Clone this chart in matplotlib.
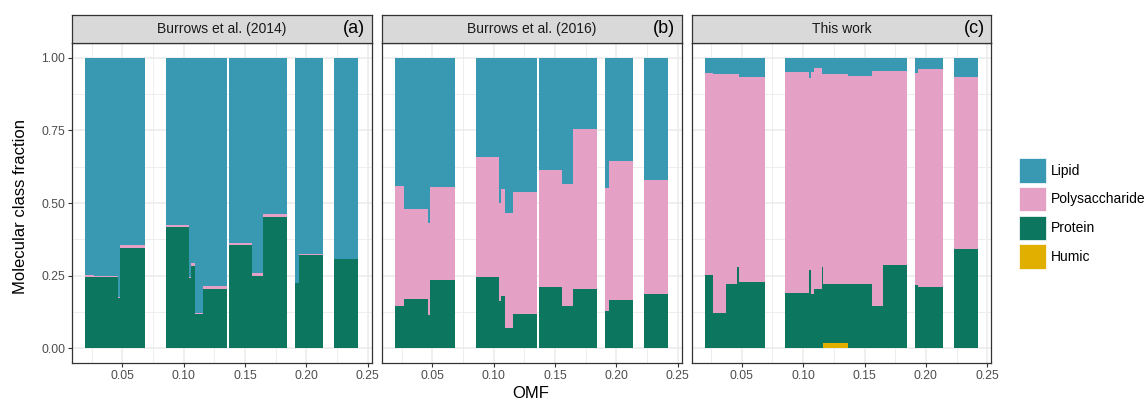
import matplotlib
matplotlib.use("Agg")
import matplotlib.pyplot as plt
from matplotlib.patches import Patch
from matplotlib.ticker import MultipleLocator

plt.rcParams['font.family'] = ['Liberation Sans', 'DejaVu Sans']

# bar edges (OMF) shared by panels (a) and (b)
ab_left = [0.0196, 0.0269, 0.0462, 0.0481, 0.0853, 0.1046, 0.1062, 0.1089, 0.1155,
           0.1370, 0.1557, 0.1647, 0.1908, 0.1938, 0.2226]
ab_right = [0.0269, 0.0462, 0.0481, 0.0685, 0.1046, 0.1062, 0.1089, 0.1155, 0.1357,
            0.1557, 0.1647, 0.1845, 0.1938, 0.2139, 0.2424]

# Burrows et al. (2014)
humic_a = [0.0] * 15
protein_a = [0.246, 0.246, 0.172, 0.346, 0.417, 0.241, 0.285, 0.119, 0.206, 0.354, 0.250, 0.452, 0.226, 0.321, 0.307]
poly_a = [0.008, 0.004, 0.006, 0.009, 0.009, 0.005, 0.009, 0.004, 0.008, 0.008, 0.009, 0.010, 0.000, 0.004, 0.002]
lipid_a = [0.746, 0.750, 0.822, 0.645, 0.574, 0.754, 0.706, 0.877, 0.786, 0.638, 0.741, 0.538, 0.774, 0.675, 0.691]

# Burrows et al. (2016)
humic_b = [0.0] * 15
protein_b = [0.145, 0.170, 0.116, 0.237, 0.247, 0.163, 0.182, 0.071, 0.120, 0.212, 0.145, 0.205, 0.128, 0.167, 0.186]
poly_b = [0.413, 0.308, 0.316, 0.319, 0.412, 0.338, 0.367, 0.395, 0.417, 0.403, 0.422, 0.550, 0.423, 0.478, 0.392]
lipid_b = [0.442, 0.522, 0.568, 0.444, 0.341, 0.499, 0.451, 0.534, 0.463, 0.385, 0.433, 0.245, 0.449, 0.355, 0.422]

# This work
c_left = [0.0196, 0.0269, 0.0372, 0.0462, 0.0481, 0.0853, 0.1046, 0.1062, 0.1089, 0.1150, 0.1163,
          0.1368, 0.1557, 0.1647, 0.1908, 0.1938, 0.2226]
c_right = [0.0269, 0.0372, 0.0462, 0.0481, 0.0685, 0.1046, 0.1062, 0.1089, 0.1150, 0.1163, 0.1362,
           0.1557, 0.1647, 0.1845, 0.1938, 0.2139, 0.2424]
humic_c = [0, 0, 0, 0, 0, 0, 0, 0, 0, 0, 0.020, 0, 0, 0, 0, 0, 0]
protein_c = [0.253, 0.123, 0.222, 0.281, 0.229, 0.191, 0.268, 0.188, 0.203, 0.281, 0.200,
             0.222, 0.145, 0.286, 0.217, 0.211, 0.343]
poly_c = [0.694, 0.821, 0.721, 0.662, 0.705, 0.759, 0.663, 0.762, 0.761, 0.664, 0.723,
          0.714, 0.810, 0.667, 0.729, 0.751, 0.591]
lipid_c = [0.053, 0.056, 0.057, 0.057, 0.066, 0.050, 0.069, 0.050, 0.036, 0.055, 0.057,
           0.064, 0.045, 0.047, 0.054, 0.038, 0.066]

classes = ['Lipid', 'Polysaccharide', 'Protein', 'Humic']
colors = {'Lipid': '#3A99B2', 'Polysaccharide': '#E5A0C6', 'Protein': '#0C775E', 'Humic': '#E1AF00'}

panels = [
    ('Burrows et al. (2014)', '(a)', ab_left, ab_right,
     {'Humic': humic_a, 'Protein': protein_a, 'Polysaccharide': poly_a, 'Lipid': lipid_a}),
    ('Burrows et al. (2016)', '(b)', ab_left, ab_right,
     {'Humic': humic_b, 'Protein': protein_b, 'Polysaccharide': poly_b, 'Lipid': lipid_b}),
    ('This work', '(c)', c_left, c_right,
     {'Humic': humic_c, 'Protein': protein_c, 'Polysaccharide': poly_c, 'Lipid': lipid_c}),
]

W, H = 1148, 404
fig = plt.figure(figsize=(W / 100, H / 100), dpi=100)
lefts = [72, 382, 691.5]
grid_col = '#EBEBEB'
dark = '#333333'

for i, (title, tag, left, right, vals) in enumerate(panels):
    ax = fig.add_axes([lefts[i] / W, (H - 363) / H, 300 / W, 320 / H])
    widths = [r - l for l, r in zip(left, right)]
    bottom = [0.0] * len(left)
    # stack from the bottom: humic, protein, polysaccharide, lipid
    for cls in ['Humic', 'Protein', 'Polysaccharide', 'Lipid']:
        h = vals[cls]
        ax.bar(left, h, width=widths, bottom=bottom, align='edge',
               color=colors[cls], linewidth=0, zorder=2)
        bottom = [b + v for b, v in zip(bottom, h)]

    ax.set_xlim(0.0090, 0.2535)
    ax.set_ylim(-0.05, 1.05)
    ax.xaxis.set_major_locator(MultipleLocator(0.05))
    ax.xaxis.set_minor_locator(MultipleLocator(0.025))
    ax.yaxis.set_major_locator(MultipleLocator(0.25))
    ax.yaxis.set_minor_locator(MultipleLocator(0.125))
    ax.grid(which='major', color=grid_col, linewidth=1.1, zorder=0)
    ax.grid(which='minor', color=grid_col, linewidth=0.6, zorder=0)
    ax.set_axisbelow(True)
    ax.set_xticks([0.05, 0.10, 0.15, 0.20, 0.25])
    ax.set_xticklabels(['0.05', '0.10', '0.15', '0.20', '0.25'])
    ax.tick_params(which='minor', length=0)
    ax.tick_params(which='major', length=3, width=0.8, color=dark,
                   labelcolor='#4D4D4D', labelsize=8.8, pad=2)
    if i == 0:
        ax.set_yticks([0, 0.25, 0.5, 0.75, 1.0])
        ax.set_yticklabels(['0.00', '0.25', '0.50', '0.75', '1.00'])
    else:
        ax.tick_params(axis='y', left=False, labelleft=False)
    for s in ax.spines.values():
        s.set_color(dark)
        s.set_linewidth(0.9)

    st = fig.add_axes([lefts[i] / W, (H - 43) / H, 300 / W, 28 / H])
    st.set_facecolor('#D9D9D9')
    st.set_xticks([])
    st.set_yticks([])
    for s in st.spines.values():
        s.set_color(dark)
        s.set_linewidth(0.9)
    st.text(0.5, 0.5, title, ha='center', va='center', fontsize=10, color='#1A1A1A',
            transform=st.transAxes)
    st.text(0.978, 0.52, tag, ha='right', va='center', fontsize=13, color='black',
            transform=st.transAxes)

fig.text(21 / W, 1 - 207 / H, 'Molecular class fraction', rotation=90,
         ha='center', va='center', fontsize=12)
fig.text(531 / W, 1 - 394 / H, 'OMF', ha='center', va='center', fontsize=12)

handles = [Patch(facecolor=colors[c], edgecolor='white', linewidth=0.5) for c in classes]
fig.legend(handles, classes, loc='upper left', bbox_to_anchor=(1019 / W, 1 - 158 / H),
           frameon=False, fontsize=10, handlelength=1.95, handleheight=2.35,
           labelspacing=0.3, handletextpad=0.35, borderpad=0, borderaxespad=0)

fig.savefig('out.png', dpi=100)
